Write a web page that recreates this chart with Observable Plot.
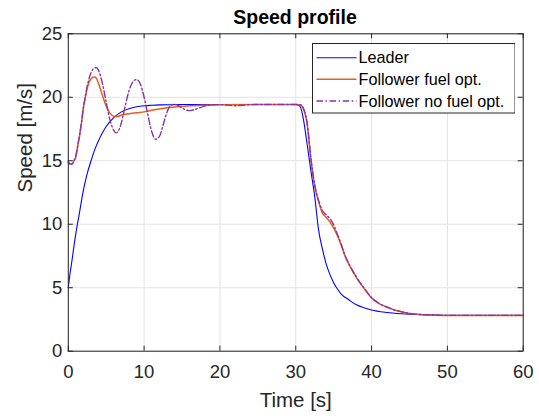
<!DOCTYPE html>
<html>
<head>
<meta charset="utf-8">
<script src="https://cdn.jsdelivr.net/npm/d3@7"></script>
<script src="https://cdn.jsdelivr.net/npm/@observablehq/plot@0.6"></script>
<style>
  html, body { margin: 0; padding: 0; background: #fff; }
  #wrap { position: relative; width: 539px; height: 418px; font-family: "Liberation Sans", Arial, Helvetica, sans-serif; }
  #title { position: absolute; left: 51px; top: 0; height: 26px; line-height: 34px; width: 488px; text-align: center; font-weight: bold; font-size: 19.5px; color: #000; white-space: nowrap; z-index: 2; }
  #chart { position: absolute; left: 0; top: 0; }
  #legend { position: absolute; left: 311.5px; top: 43px; z-index: 3; }
</style>
</head>
<body>
<div id="wrap">
  <div id="chart"></div>
  <div id="title">Speed profile</div>
  <div id="legend"></div>
</div>
<script>
// ---- Data ----
const seriesNames = ["Leader", "Follower fuel opt.", "Follower no fuel opt."];
const seriesColors = ["#0000ff", "#ee5a1c", "#8634a8"];

const xTicks = [0, 10, 20, 30, 40, 50, 60];
const yTicks = [0, 5, 10, 15, 20, 25];

const leaderT = [0, 0.25, 0.5, 0.75, 1, 1.5, 2, 2.5, 3, 3.5, 4, 4.5, 5, 6, 7, 8, 9, 10, 11, 12, 14, 16, 20, 25, 30, 30.3, 30.6, 31, 31.5, 32, 32.5, 33, 33.5, 34, 34.5, 35, 35.5, 36, 37, 38, 39, 40, 42, 44, 46, 48, 50, 55, 60];
const leaderV = [5, 6.2, 7.2, 8.3, 9.3, 11.0, 12.7, 14.0, 15.0, 15.9, 16.6, 17.2, 17.7, 18.4, 18.85, 19.1, 19.25, 19.33, 19.37, 19.4, 19.42, 19.43, 19.43, 19.43, 19.43, 19.4, 19.25, 18.3, 16.3, 14.2, 12.2, 9.6, 8.1, 6.9, 6.05, 5.4, 4.9, 4.5, 4.05, 3.65, 3.42, 3.24, 3.05, 2.95, 2.89, 2.86, 2.83, 2.82, 2.82];

const fuelT = [0, 0.25, 0.5, 0.75, 1, 1.25, 1.5, 1.75, 2, 2.25, 2.5, 2.75, 3, 3.25, 3.5, 3.75, 4, 4.5, 5, 5.5, 6, 6.5, 7, 8, 9, 10, 11, 12, 13, 14, 15, 16, 18, 20, 25, 30, 30.6, 31, 31.5, 32, 32.5, 33, 33.5, 34, 34.5, 35, 35.5, 36, 36.5, 37, 37.5, 38, 39, 40, 41, 42, 43, 44, 45, 46, 47, 48, 50, 55, 60];
const fuelV = [14.9, 14.75, 14.75, 15.0, 15.3, 16.2, 17.0, 18.0, 19.2, 20.0, 20.7, 21.2, 21.45, 21.58, 21.6, 21.45, 21.07, 20.15, 19.3, 18.75, 18.5, 18.48, 18.6, 18.7, 18.78, 18.85, 18.97, 19.08, 19.17, 19.23, 19.28, 19.33, 19.38, 19.41, 19.43, 19.43, 19.4, 19.1, 17.9, 15.1, 13.0, 11.8, 10.9, 10.55, 10.2, 9.7, 9.1, 8.35, 7.5, 6.85, 6.3, 5.8, 4.95, 4.2, 3.75, 3.47, 3.25, 3.1, 2.97, 2.91, 2.87, 2.85, 2.82, 2.82, 2.82];

const noFuelT = [0, 0.25, 0.5, 0.75, 1, 1.25, 1.5, 1.75, 2, 2.25, 2.5, 2.75, 3, 3.25, 3.5, 3.75, 4, 4.5, 5, 5.5, 6, 6.3, 6.6, 7, 7.5, 8, 8.5, 9, 9.5, 10, 10.5, 11, 11.5, 12, 12.5, 13, 13.5, 14, 14.5, 15, 15.5, 16, 16.5, 17, 18, 19, 20, 21, 22, 23, 24, 25, 30, 30.6, 31, 31.5, 32, 32.5, 33, 33.5, 34, 34.5, 35, 35.5, 36, 36.5, 37, 37.5, 38, 39, 40, 41, 42, 43, 44, 45, 46, 47, 48, 50, 55, 60];
const noFuelV = [14.9, 14.75, 14.75, 15.0, 15.4, 16.2, 17.1, 18.1, 19.2, 20.1, 20.9, 21.5, 21.95, 22.2, 22.32, 22.33, 22.1, 21.1, 19.6, 18.2, 17.4, 17.2, 17.35, 18.0, 19.3, 20.5, 21.2, 21.4, 21.05, 20.0, 18.6, 17.3, 16.7, 16.9, 17.8, 18.8, 19.35, 19.45, 19.35, 19.15, 19.0, 18.95, 19.0, 19.1, 19.3, 19.4, 19.42, 19.38, 19.33, 19.37, 19.42, 19.43, 19.43, 19.42, 19.15, 18.0, 15.2, 13.1, 11.9, 11.1, 10.75, 10.45, 9.95, 9.2, 8.4, 7.55, 6.9, 6.35, 5.85, 4.98, 4.22, 3.77, 3.48, 3.26, 3.1, 2.98, 2.91, 2.87, 2.85, 2.82, 2.82, 2.82];

// ---- Build tables ----
const series = [
  leaderT.map((t, i) => ({t, v: leaderV[i], s: seriesNames[0]})),
  fuelT.map((t, i) => ({t, v: fuelV[i], s: seriesNames[1]})),
  noFuelT.map((t, i) => ({t, v: noFuelV[i], s: seriesNames[2]}))
];

const W = 539, H = 418;
const mTop = 33.3, mBottom = 67.3, mLeft = 67.8, mRight = 16.3;
const innerH = H - mTop - mBottom;
const innerW = W - mLeft - mRight;
const tickLen = 5;
const axisColor = "#262626";
const gridColor = "#e3e3e3";

const plot = Plot.plot({
  width: W,
  height: H,
  marginTop: mTop,
  marginBottom: mBottom,
  marginLeft: mLeft,
  marginRight: mRight,
  style: {fontFamily: "'Liberation Sans', Arial, Helvetica, sans-serif", fontSize: "18.5px", color: axisColor, background: "#fff"},
  x: {domain: [0, 60], ticks: xTicks},
  y: {domain: [0, 25], ticks: yTicks},
  marks: [
    Plot.gridX(xTicks, {stroke: gridColor, strokeOpacity: 1}),
    Plot.gridY(yTicks, {stroke: gridColor, strokeOpacity: 1}),
    // inward ticks on all four sides (MATLAB box style)
    Plot.tickX(xTicks, {x: d => d, insetTop: innerH - tickLen, stroke: axisColor}),
    Plot.tickX(xTicks, {x: d => d, insetBottom: innerH - tickLen, stroke: axisColor}),
    Plot.tickY(yTicks, {y: d => d, insetRight: innerW - tickLen, stroke: axisColor}),
    Plot.tickY(yTicks, {y: d => d, insetLeft: innerW - tickLen, stroke: axisColor}),
    Plot.axisX(xTicks, {tickSize: 0, tickPadding: 14, label: null, fill: axisColor}),
    Plot.axisY(yTicks, {tickSize: 0, tickPadding: 6, label: null, fill: axisColor}),
    Plot.line(series[0], {x: "t", y: "v", stroke: seriesColors[0], strokeWidth: 1.1, curve: "monotone-x"}),
    Plot.line(series[1], {x: "t", y: "v", stroke: seriesColors[1], strokeWidth: 1.5, curve: "monotone-x"}),
    Plot.line(series[2], {x: "t", y: "v", stroke: seriesColors[2], strokeWidth: 1.4, strokeDasharray: "6.5,2.5,1.6,2.5", curve: "monotone-x"}),
    Plot.frame({stroke: axisColor, strokeWidth: 1}),
    Plot.text(["Time [s]"], {frameAnchor: "bottom", dy: 49, text: d => d, fontSize: 20.5, fill: axisColor, lineAnchor: "middle"}),
    Plot.text(["Speed [m/s]"], {frameAnchor: "left", dx: -43, text: d => d, fontSize: 20.5, fill: axisColor, rotate: -90, lineAnchor: "middle"})
  ]
});
document.getElementById("chart").appendChild(plot);

// ---- Legend (inside the axes, upper right) ----
const lw = 203.5, lh = 70.5;
const rowY = [14.7, 36.3, 58.0];
const ns = "http://www.w3.org/2000/svg";
const lsvg = document.createElementNS(ns, "svg");
lsvg.setAttribute("width", lw);
lsvg.setAttribute("height", lh);
lsvg.style.display = "block";
const box = document.createElementNS(ns, "rect");
box.setAttribute("x", 0.5); box.setAttribute("y", 0.5);
box.setAttribute("width", lw - 1); box.setAttribute("height", lh - 1);
box.setAttribute("fill", "#fff"); box.setAttribute("stroke", axisColor); box.setAttribute("stroke-width", 1);
lsvg.appendChild(box);
const widths = [1.1, 1.5, 1.4];
const dashes = [null, null, "6.5,2.5,1.6,2.5"];
seriesNames.forEach((name, i) => {
  const ln = document.createElementNS(ns, "line");
  ln.setAttribute("x1", 4.5); ln.setAttribute("x2", 44.5);
  ln.setAttribute("y1", rowY[i]); ln.setAttribute("y2", rowY[i]);
  ln.setAttribute("stroke", seriesColors[i]);
  ln.setAttribute("stroke-width", widths[i]);
  if (dashes[i]) ln.setAttribute("stroke-dasharray", dashes[i]);
  lsvg.appendChild(ln);
  const tx = document.createElementNS(ns, "text");
  tx.setAttribute("x", 46.5); tx.setAttribute("y", rowY[i]);
  tx.setAttribute("dy", "0.35em");
  tx.setAttribute("font-size", "16.2px");
  tx.setAttribute("font-family", "'Liberation Sans', Arial, sans-serif");
  tx.setAttribute("fill", "#000");
  tx.textContent = name;
  lsvg.appendChild(tx);
});
document.getElementById("legend").appendChild(lsvg);
</script>
</body>
</html>
